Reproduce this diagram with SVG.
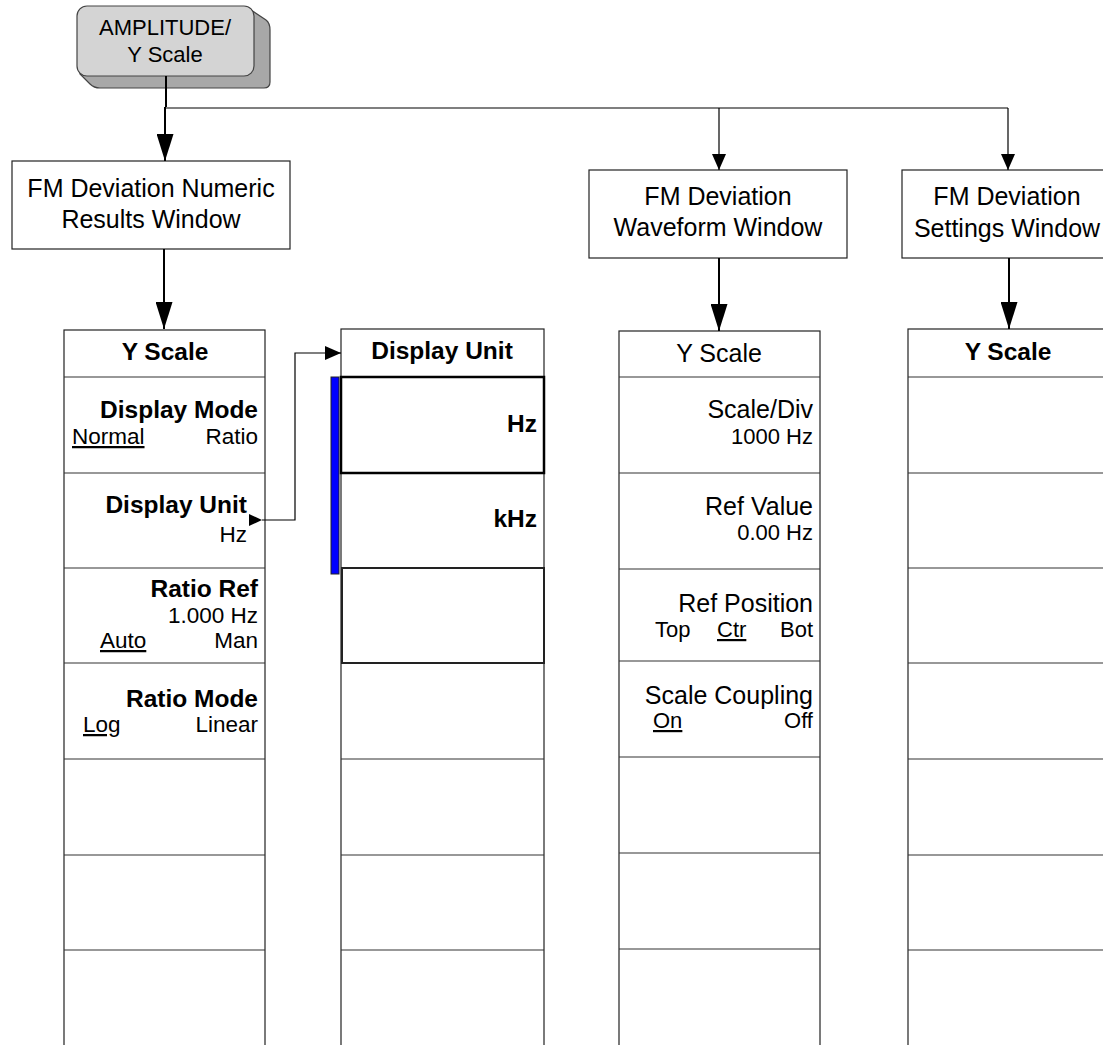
<svg xmlns="http://www.w3.org/2000/svg" width="1103" height="1045" viewBox="0 0 1103 1045">
<style>
text{font-family:"Liberation Sans",Arial,sans-serif;fill:#000}
.t{font-size:25px;text-anchor:middle}
.b{font-size:24.5px;font-weight:bold}
.s{font-size:22.5px}
.v{font-size:22px}
.n{font-size:25px}
.m{text-anchor:middle}
.e{text-anchor:end}
.u{text-decoration:underline}
.box{fill:#fff;stroke:#222;stroke-width:1.2}
.row{fill:none;stroke:#333;stroke-width:1.2}
.thin{fill:none;stroke:#000;stroke-width:1.2}
.thick{fill:none;stroke:#000;stroke-width:2}
</style>
<defs>
<marker id="big" markerUnits="userSpaceOnUse" markerWidth="27" markerHeight="17" refX="27" refY="8.5" orient="auto" viewBox="0 0 27 17">
<path d="M0,0 L27,8.5 L0,17 Z" fill="#000"/>
</marker>
<marker id="small" markerUnits="userSpaceOnUse" markerWidth="16" markerHeight="14" refX="16" refY="7" orient="auto" viewBox="0 0 16 14">
<path d="M0,0 L16,7 L0,14 Z" fill="#000"/>
</marker>
</defs>

<g id="amplitude">
<path d="M248,8 L266,20 Q270,23 270,30 L270,82 Q270,88 264,88 L100,88 Q94,88 90,84 L80,74 L80,20 Z" fill="#a8a8a8" stroke="#444" stroke-width="1.2"/>
<rect x="77" y="6" width="177" height="70" rx="10" fill="#d4d4d4" stroke="#444" stroke-width="1.2"/>
<text class="m" x="165" y="35" style="font-size:22px">AMPLITUDE/</text>
<text class="m" x="165" y="62" style="font-size:22px">Y Scale</text>
</g>

<g id="numeric">
<rect class="box" x="12" y="161" width="278" height="88"/>
<text class="t" x="151" y="197">FM Deviation Numeric</text>
<text class="t" x="151" y="228">Results Window</text>
</g>

<g id="waveform">
<rect class="box" x="589" y="170" width="258" height="88"/>
<text class="t" x="718" y="205">FM Deviation</text>
<text class="t" x="718" y="236">Waveform Window</text>
</g>

<g id="settings">
<rect class="box" x="902" y="170" width="210" height="88"/>
<text class="t" x="1007" y="205">FM Deviation</text>
<text class="t" x="1007" y="237">Settings Window</text>
</g>

<g id="col1">
<rect class="box" x="64" y="330" width="201" height="720"/>
<path class="row" d="M64,377H265M64,473H265M64,568H265M64,663H265M64,759H265M64,855H265M64,950H265"/>
<text class="b m" x="165" y="360">Y Scale</text>
<text class="b e" x="258" y="418">Display Mode</text>
<text class="s u" x="72" y="444">Normal</text>
<text class="s e" x="258" y="444">Ratio</text>
<text class="b e" x="247" y="513">Display Unit</text>
<text class="s e" x="247" y="542">Hz</text>
<text class="b e" x="258" y="597">Ratio Ref</text>
<text class="s e" x="258" y="623">1.000 Hz</text>
<text class="s u" x="100" y="648">Auto</text>
<text class="s e" x="258" y="648">Man</text>
<text class="b e" x="258" y="707">Ratio Mode</text>
<text class="s u" x="83" y="732">Log</text>
<text class="s e" x="258" y="732">Linear</text>
</g>

<g id="col2">
<rect class="box" x="341" y="329" width="203" height="720"/>
<path class="row" d="M341,473H544M341,759H544M341,855H544M341,950H544"/>
<rect x="341" y="377" width="203" height="96" fill="none" stroke="#000" stroke-width="2.5"/>
<rect x="342" y="568" width="202" height="95" fill="none" stroke="#222" stroke-width="2"/>
<rect x="331" y="377" width="8" height="197" fill="#0000ff" stroke="#222" stroke-width="1"/>
<text class="b m" x="442" y="359">Display Unit</text>
<text class="b e" x="537" y="432">Hz</text>
<text class="b e" x="537" y="527">kHz</text>
</g>

<g id="col3">
<rect class="box" x="619" y="331" width="201" height="720"/>
<path class="row" d="M619,377H820M619,473H820M619,569H820M619,661H820M619,757H820M619,853H820M619,949H820"/>
<text class="n m" x="719" y="362">Y Scale</text>
<text class="n e" x="813" y="418">Scale/Div</text>
<text class="v e" x="813" y="444">1000 Hz</text>
<text class="n e" x="813" y="515">Ref Value</text>
<text class="v e" x="813" y="540">0.00 Hz</text>
<text class="n e" x="813" y="612">Ref Position</text>
<text class="v" x="655" y="637">Top</text>
<text class="v u" x="717" y="637">Ctr</text>
<text class="v e" x="813" y="637">Bot</text>
<text class="n e" x="813" y="704">Scale Coupling</text>
<text class="v u" x="653" y="728">On</text>
<text class="v e" x="813" y="728">Off</text>
</g>

<g id="col4">
<rect class="box" x="908" y="329" width="210" height="720"/>
<path class="row" d="M908,377H1110M908,473H1110M908,568H1110M908,663H1110M908,759H1110M908,855H1110M908,950H1110"/>
<text class="b m" x="1008" y="360">Y Scale</text>
</g>

<g id="connectors">
<line class="thick" x1="166" y1="76" x2="166" y2="107"/>
<line class="thin" x1="166" y1="108" x2="1008" y2="108"/>
<line class="thick" x1="165" y1="107" x2="165" y2="161" marker-end="url(#big)"/>
<line class="thin" x1="719" y1="108" x2="719" y2="170" marker-end="url(#small)"/>
<line class="thin" x1="1008" y1="108" x2="1008" y2="170" marker-end="url(#small)"/>
<line class="thick" x1="164" y1="249" x2="164" y2="329" marker-end="url(#big)"/>
<line class="thick" x1="719" y1="258" x2="719" y2="331" marker-end="url(#big)"/>
<line class="thick" x1="1009" y1="258" x2="1009" y2="329" marker-end="url(#big)"/>
<path d="M249,514 L262,520 L249,526 Z" fill="#000"/>
<polyline class="thin" points="262,520 295,520 295,353 341,353" marker-end="url(#small)"/>
</g>
</svg>
